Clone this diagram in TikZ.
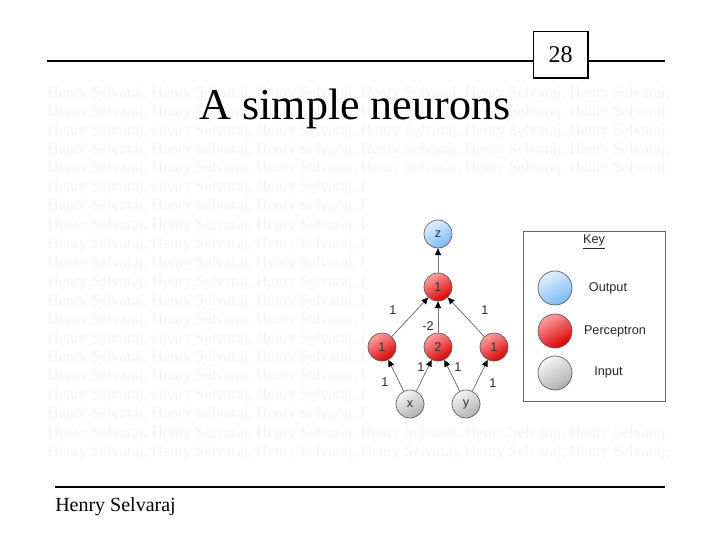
\documentclass[tikz,border=0pt]{standalone}
\usepackage{fontspec}
\setmainfont{Liberation Serif}
\setsansfont{Liberation Sans}
\usetikzlibrary{arrows.meta,positioning}

\definecolor{outlight}{RGB}{225,240,255}
\definecolor{outdark}{RGB}{125,185,245}
\definecolor{perlight}{RGB}{255,160,160}
\definecolor{perdark}{RGB}{215,0,0}
\definecolor{inlight}{RGB}{245,245,245}
\definecolor{indark}{RGB}{175,175,175}
\definecolor{wmgray}{RGB}{244,244,244}

\tikzset{
  neuron/.style={circle,draw=black!65,line width=0.5pt,minimum size=21pt,inner sep=0pt,
    font=\sffamily\fontsize{9.5}{11}\selectfont,text=black!80},
  outneuron/.style={neuron,top color=outlight,bottom color=outdark,shading angle=30},
  perneuron/.style={neuron,top color=perlight,bottom color=perdark,shading angle=30},
  inneuron/.style={neuron,top color=inlight,bottom color=indark,shading angle=30},
  synapse/.style={draw=black!55,line width=0.6pt,-{Triangle[length=5pt,width=4.5pt,color=black]}},
  weight/.style={font=\sffamily\fontsize{9.5}{11}\selectfont,text=black!85,inner sep=0pt},
  keytext/.style={font=\sffamily\fontsize{9.5}{11}\selectfont,text=black!85},
  wmtext/.style={font=\fontsize{12}{14}\selectfont,text=wmgray,anchor=base west,inner sep=0pt}
}

\begin{document}
\begin{tikzpicture}[x=0.75pt,y=0.75pt,yscale=-1,xscale=1]
\useasboundingbox (0,0) rectangle (720,540);

% watermark lines
\foreach \i in {0,...,19}{
  \node[wmtext] (wm\i) at (47,{97.3+18.9*\i}) {Henry Selvaraj, Henry Selvaraj, Henry Selvaraj, Henry Selvaraj, Henry Selvaraj, Henry Selvaraj,};
}

% Page number and top rule
\node[draw,line width=1pt,minimum width=41pt,minimum height=35pt,inner sep=0pt,
  font=\fontsize{18}{20}\selectfont] (page) at (560.5,54.5) {28};
\coordinate (ruleL) at (47,61);
\coordinate (ruleR) at (665,61);
\draw[line width=1.5pt] (ruleL) -- (page.west |- ruleL);
\draw[line width=1.5pt] (page.east |- ruleR) -- (ruleR);

% Title
\node[font=\fontsize{33}{40}\selectfont,anchor=base] (title) at (355,119) {A simple neurons};

% Diagram background
\fill[white] (365,178) rectangle (675,426);

% Network
\node[outneuron] (z) at (438,234) {z};
\node[perneuron] (p) at (438,287) {1};
\node[perneuron] (h1) at (382,347) {1};
\node[perneuron] (h2) at (438,347) {2};
\node[perneuron] (h3) at (494,347) {1};
\node[inneuron] (x) at (410,404) {x};
\node[inneuron] (y) at (466,404) {y};

\draw[synapse] (p) -- (z);
\draw[synapse] (h1) -- (p);
\draw[synapse] (h2) -- (p);
\draw[synapse] (h3) -- (p);
\draw[synapse] (x) -- (h1);
\draw[synapse] (x) -- (h2);
\draw[synapse] (y) -- (h2);
\draw[synapse] (y) -- (h3);

% Weights
\node[weight] (w1) at (393,310) {1};
\node[weight] (w2) at (428,326) {-2};
\node[weight] (w3) at (485,310) {1};
\node[weight] (w4) at (385,382) {1};
\node[weight] (w5) at (421,367) {1};
\node[weight] (w6) at (458,367) {1};
\node[weight] (w7) at (493,383) {1};

% Key
\draw[draw=black!60,line width=0.6pt] (523,231) rectangle (665,401);
\node[keytext] (keyhead) at (594,242) {\underline{Key}};
\node[outneuron,minimum size=25.5pt] (kout) at (555,288) {};
\node[perneuron,minimum size=25.5pt] (kper) at (555,331) {};
\node[inneuron,minimum size=25.5pt] (kin) at (555,373) {};
\node[keytext] (lout) at (608,288) {Output};
\node[keytext] (lper) at (615,331) {Perceptron};
\node[keytext] (lin) at (608.5,372) {Input};

% Footer
\coordinate (footL) at (55,487);
\coordinate (footR) at (665,487);
\draw[line width=1.5pt] (footL) -- (footR);
\node[font=\fontsize{15}{18}\selectfont,anchor=base west,inner sep=0pt] (author) at (55,511) {Henry Selvaraj};

\end{tikzpicture}
\end{document}
